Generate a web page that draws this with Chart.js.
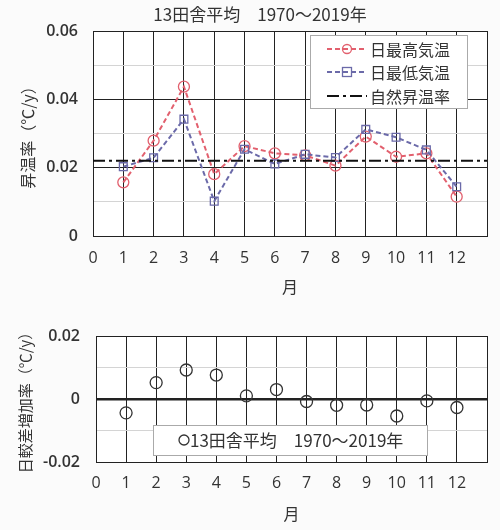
<!DOCTYPE html>
<html><head><meta charset="utf-8">
<script src="https://cdn.jsdelivr.net/npm/chart.js@4/dist/chart.umd.min.js"></script>
<style>
html,body{margin:0;padding:0;background:#fbfbfb;}
#wrap{position:relative;width:500px;height:530px;}
#c1{position:absolute;left:0;top:0;}
#c2{position:absolute;left:0;top:300px;}
</style></head>
<body>
<div id="wrap">
<canvas id="c1" width="500" height="300"></canvas>
<canvas id="c2" width="500" height="230"></canvas>
</div>
<script>
const months = [1,2,3,4,5,6,7,8,9,10,11,12];
const maxTempRate = [0.0157,0.0279,0.0437,0.0181,0.0263,0.0242,0.0236,0.0206,0.0291,0.0232,0.0242,0.0115];
const minTempRate = [0.0203,0.0229,0.0342,0.0102,0.0254,0.0211,0.0239,0.0230,0.0312,0.0289,0.0252,0.0144];
const naturalRate = 0.0220;
const dtrRate = [-0.0044,0.0052,0.0092,0.0076,0.0010,0.0030,-0.0008,-0.0020,-0.0019,-0.0054,-0.0006,-0.0027];
const title = '13田舎平均　1970～2019年';
const labelMax = '日最高気温';
const labelMin = '日最低気温';
const labelNat = '自然昇温率';
const xTitle = '月';
const yTitle1 = '昇温率（℃/y）';
const yTitle2 = '日較差増加率（℃/y）';

const RED = '#e2606e';
const BLUE = '#6b6aa9';
const JP = '"Noto Sans CJK JP", sans-serif';
const NUM = '"Open Sans", "Noto Sans", sans-serif';

Chart.defaults.animation = false;
Chart.defaults.devicePixelRatio = 1;

function fmt(v){
  const r = Math.round(v*1000)/1000;
  if (Math.abs(r) < 1e-9) return '0';
  return r.toFixed(2);
}

const bgPlugin = {
  id:'bg',
  beforeDraw(chart){
    const {ctx, chartArea:a} = chart;
    ctx.save(); ctx.fillStyle='#ffffff';
    ctx.fillRect(a.left,a.top,a.right-a.left,a.bottom-a.top);
    ctx.restore();
  }
};

const topDeco = {
  id:'topDeco',
  afterDraw(chart){
    const ctx = chart.ctx;
    ctx.save();
    ctx.fillStyle='#333';
    ctx.font = '17px ' + JP;
    ctx.textAlign='center'; ctx.textBaseline='middle';
    ctx.fillText(title, 260, 15);
    const x0=310,y0=35,w=157,h=73;
    ctx.fillStyle='#ffffff';
    ctx.fillRect(x0,y0,w,h);
    ctx.strokeStyle='#aaaaaa'; ctx.lineWidth=1;
    ctx.strokeRect(x0+0.5,y0+0.5,w,h);
    const rows=[
      {y:49,c:RED,dash:[5,3],t:labelMax,m:'circle'},
      {y:72,c:BLUE,dash:[5,3],t:labelMin,m:'rect'},
      {y:96,c:'#111',dash:[12,4,3,4],t:labelNat,m:null}
    ];
    rows.forEach(r=>{
      ctx.strokeStyle=r.c; ctx.lineWidth=2; ctx.setLineDash(r.dash);
      ctx.beginPath(); ctx.moveTo(327,r.y); ctx.lineTo(367,r.y); ctx.stroke();
      ctx.setLineDash([]); ctx.lineWidth=1.3;
      if(r.m==='circle'){ ctx.beginPath(); ctx.arc(347,r.y,4.5,0,Math.PI*2); ctx.stroke(); }
      if(r.m==='rect'){ ctx.strokeRect(342.5,r.y-4.5,9,9); }
      ctx.fillStyle='#333'; ctx.font='16px '+JP; ctx.textAlign='left'; ctx.textBaseline='middle';
      ctx.fillText(r.t, 370, r.y+1);
    });
    ctx.restore();
  }
};

const botDeco = {
  id:'botDeco',
  afterDraw(chart){
    const ctx = chart.ctx;
    ctx.save();
    const x0=153,y0=125,w=274,h=30;
    ctx.fillStyle='#ffffff'; ctx.fillRect(x0,y0,w,h);
    ctx.strokeStyle='#aaaaaa'; ctx.lineWidth=1; ctx.strokeRect(x0+0.5,y0+0.5,w,h);
    ctx.strokeStyle='#333'; ctx.lineWidth=1.3;
    ctx.beginPath(); ctx.arc(184,y0+15,5,0,Math.PI*2); ctx.stroke();
    ctx.fillStyle='#333'; ctx.font='17px '+JP; ctx.textAlign='left'; ctx.textBaseline='middle';
    ctx.fillText('13田舎平均　1970～2019年', 190, y0+16);
    ctx.restore();
  }
};

const toXY = arr => arr.map((v,i)=>({x:months[i], y:v}));

new Chart(document.getElementById('c1'), {
  type:'line',
  data:{datasets:[
    {label:labelNat, data:[{x:0,y:naturalRate},{x:13,y:naturalRate}], borderColor:'#111', borderWidth:2, borderDash:[12,4,3,4], pointRadius:0, fill:false},
    {label:labelMin, data:toXY(minTempRate), borderColor:BLUE, borderWidth:2, borderDash:[5,3], pointStyle:'rect', pointRadius:5.5, pointBorderWidth:1.3, pointBackgroundColor:'rgba(0,0,0,0)', pointBorderColor:BLUE, fill:false},
    {label:labelMax, data:toXY(maxTempRate), borderColor:RED, borderWidth:2, borderDash:[5,3], pointStyle:'circle', pointRadius:5.5, pointBorderWidth:1.3, pointBackgroundColor:'rgba(0,0,0,0)', pointBorderColor:RED, fill:false}
  ]},
  options:{
    responsive:false, maintainAspectRatio:false,
    layout:{padding:{top:31,right:13,left:0,bottom:0}},
    plugins:{legend:{display:false}, tooltip:{enabled:false}},
    scales:{
      x:{type:'linear', min:0, max:13,
        afterFit(s){ s.height = 64; },
        ticks:{stepSize:1, padding:13, color:'#333', font:{family:NUM, size:16},
          callback:(v)=> v===13 ? '' : String(v)},
        grid:{color:'#222', lineWidth:1, drawTicks:false},
        border:{color:'#222', width:1},
        title:{display:true, text:xTitle, color:'#333', font:{family:JP, size:16}, padding:{top:0,bottom:3}}
      },
      y:{min:0, max:0.06,
        afterFit(s){ s.width = 93; },
        ticks:{stepSize:0.01, padding:15, color:'#333', font:{family:NUM, size:16, weight:'600'},
          callback:(v)=> (Math.round(v*100)%2===0) ? fmt(v) : ''},
        grid:{drawTicks:false, lineWidth:1,
          color:(c)=> (Math.round(c.tick.value*100)%2===0) ? '#222' : '#d4d4d4'},
        border:{color:'#222', width:1},
        title:{display:true, text:yTitle1, color:'#333', font:{family:JP, size:16}, padding:{top:18,bottom:0}}
      }
    }
  },
  plugins:[bgPlugin, topDeco]
});

new Chart(document.getElementById('c2'), {
  type:'scatter',
  data:{datasets:[
    {label:title, data:toXY(dtrRate), showLine:false, pointStyle:'circle', pointRadius:6, pointBorderWidth:1.3, pointBackgroundColor:'rgba(0,0,0,0)', pointBorderColor:'#333'}
  ]},
  options:{
    responsive:false, maintainAspectRatio:false,
    layout:{padding:{top:36,right:13,left:0,bottom:0}},
    plugins:{legend:{display:false}, tooltip:{enabled:false}},
    scales:{
      x:{type:'linear', min:0, max:13,
        afterFit(s){ s.height = 68; },
        ticks:{stepSize:1, padding:12, color:'#333', font:{family:NUM, size:16},
          callback:(v)=> v===13 ? '' : String(v)},
        grid:{color:'#222', lineWidth:1, drawTicks:false},
        border:{color:'#222', width:1},
        title:{display:true, text:xTitle, color:'#333', font:{family:JP, size:16}, padding:{top:0,bottom:6}}
      },
      y:{min:-0.02, max:0.02,
        afterFit(s){ s.width = 96; },
        ticks:{stepSize:0.01, padding:16, color:'#333', font:{family:NUM, size:16, weight:'600'},
          callback:(v)=> (Math.round(v*100)%2===0) ? fmt(v) : ''},
        grid:{drawTicks:false,
          lineWidth:(c)=> Math.abs(c.tick.value)<1e-9 ? 2.5 : 1,
          color:(c)=> (Math.round(c.tick.value*100)%2===0) ? '#222' : '#d4d4d4'},
        border:{color:'#222', width:1},
        title:{display:true, text:yTitle2, color:'#333', font:{family:JP, size:15}, padding:{top:16,bottom:0}}
      }
    }
  },
  plugins:[bgPlugin, botDeco]
});
</script>
</body></html>
